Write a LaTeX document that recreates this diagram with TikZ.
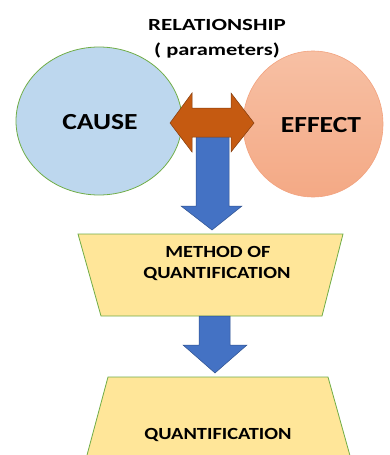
\documentclass[tikz,border=0pt]{standalone}
\usepackage{fontspec}
\setmainfont{Carlito}
\usetikzlibrary{shapes.geometric}
\definecolor{causefill}{HTML}{BDD7EE}
\definecolor{greenline}{HTML}{70AD47}
\definecolor{efftop}{HTML}{F7C0A4}
\definecolor{effbot}{HTML}{F4A985}
\definecolor{effline}{HTML}{F2A27E}
\definecolor{orangearrow}{HTML}{C55A11}
\definecolor{orangeline}{HTML}{843C0C}
\definecolor{bluearrow}{HTML}{4472C4}
\definecolor{blueline}{HTML}{2F528F}
\definecolor{trapfill}{HTML}{FFE699}
\newcommand{\wide}[2][1.2]{\scalebox{#1}[1]{#2}}
\begin{document}
\begin{tikzpicture}[x=1pt,y=-1pt,
  lbl/.style={font=\bfseries\fontsize{17}{20}\selectfont, inner sep=0pt, text=black},
  big/.style={font=\bfseries\fontsize{23}{26}\selectfont, inner sep=0pt, text=black},
  blockarrow/.style={fill=bluearrow, draw=blueline, line width=0.5pt, line join=miter},
  trap/.style={fill=trapfill, draw=greenline, line width=0.8pt}]
\useasboundingbox (0,0) rectangle (389,455);
\clip (0,0) rectangle (389,455);
% ellipses
\node[ellipse, fill=causefill, draw=greenline, line width=0.8pt,
      minimum width=166, minimum height=148, inner sep=0pt] (cause) at (99,121) {};
\node[ellipse, top color=efftop, bottom color=effbot, draw=effline, line width=0.6pt,
      minimum width=140, minimum height=146, inner sep=0pt] (effect) at (313,124) {};
% blue arrow 1
\draw[blockarrow] (196,130) -- (229,130) -- (229,206) -- (242,206) -- (212,230)
   -- (181,206) -- (196,206) -- cycle;
% orange double arrow
\draw[fill=orangearrow, draw=orangeline, line width=0.5pt, line join=miter]
  (170,123) -- (192,93) -- (192,108) -- (231,108) -- (231,93) -- (254,123)
  -- (231,152) -- (231,137) -- (192,137) -- (192,152) -- cycle;
% trapezoids
\draw[trap] (78,234) -- (343,234) -- (322,316) -- (101,316) -- cycle;
\draw[blockarrow] (199,316) -- (230,316) -- (230,345) -- (247,345) -- (215,373)
   -- (183,345) -- (199,345) -- cycle;
\draw[trap] (108,377) -- (328,377) -- (354,470) -- (83,470) -- cycle;
% texts
\node[lbl] (rel) at (217,25) {\wide[1.35]{RELATIONSHIP}};
\node[lbl, anchor=base] (par) at (217,55) {\wide[1.32]{( parameters)}};
\node[big] (causetxt) at (100,122) {\wide{CAUSE}};
\node[big] (efftxt) at (321,125) {\wide{EFFECT}};
\node[lbl] (m1) at (218,252) {\wide{METHOD OF}};
\node[lbl] (m2) at (217,274) {\wide{QUANTIFICATION}};
\node[lbl] (q) at (218,435) {\wide{QUANTIFICATION}};
\end{tikzpicture}
\end{document}
